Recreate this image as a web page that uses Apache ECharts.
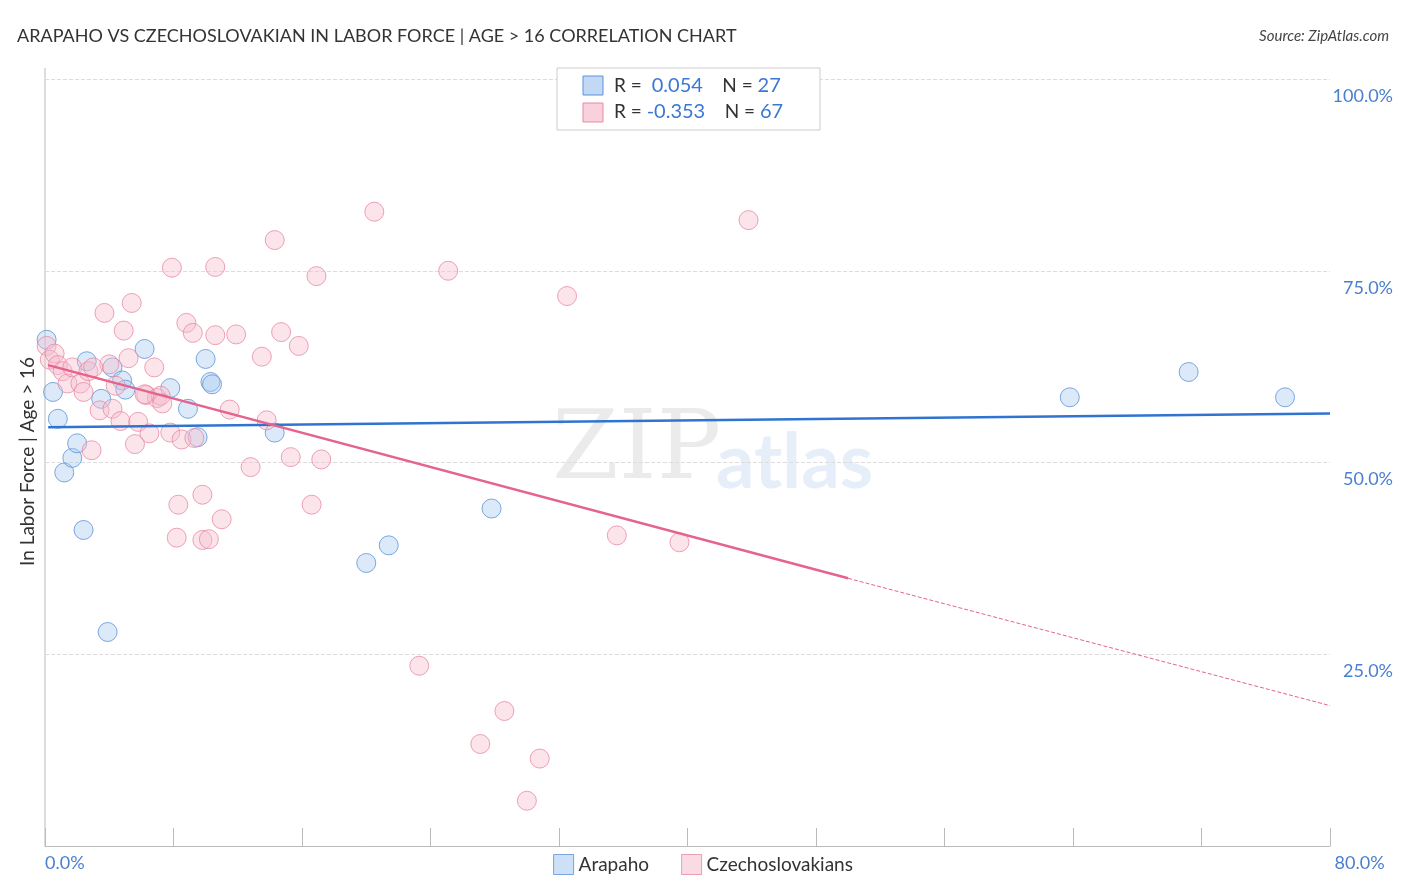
<!DOCTYPE html>
<html><head><meta charset="utf-8">
<script src="https://cdn.jsdelivr.net/npm/echarts@6/dist/echarts.min.js"></script>
<style>html,body{margin:0;padding:0;background:#fff}#main{width:1406px;height:892px}</style>
</head><body><div id="main"></div>
<script>
// 数据：点位 [x%, y%]
var arapaho = [[0.1,66.0],[0.5,59.2],[0.8,55.7],[1.2,48.7],[1.7,50.6],[2.0,52.5],[2.4,41.2],[2.6,63.2],[3.5,58.3],[3.9,27.9],[4.2,62.4],[4.8,60.7],[5.0,59.5],[6.2,64.8],[7.8,59.7],[8.9,57.0],[9.5,53.3],[10.0,63.5],[10.3,60.5],[10.4,60.2],[14.3,53.9],[20.0,36.9],[21.4,39.2],[27.8,44.0],[63.8,58.5],[71.2,61.8],[77.2,58.5]];
var czech = [[0.1,65.2],[0.3,63.4],[0.6,64.2],[0.8,62.7],[1.1,61.9],[1.4,60.3],[1.7,62.4],[2.2,60.3],[2.4,59.2],[2.7,61.9],[2.9,51.6],[3.4,56.8],[3.7,69.5],[4.0,62.8],[4.2,57.0],[4.4,60.0],[4.7,55.4],[4.9,67.2],[5.2,63.6],[5.4,70.8],[5.6,52.4],[5.8,55.3],[6.3,58.8],[6.5,53.8],[6.8,62.4],[6.97,58.4],[7.2,58.7],[7.3,57.7],[7.8,53.9],[7.9,75.4],[8.3,44.5],[8.5,53.0],[8.8,68.2],[9.2,66.9],[9.3,53.2],[9.8,45.8],[9.8,39.9],[10.2,40.0],[10.6,75.5],[10.6,66.6],[11.0,42.6],[11.5,56.9],[11.9,66.7],[12.8,49.4],[13.5,63.8],[13.8,55.5],[14.3,79.0],[14.7,67.0],[15.3,50.7],[15.8,65.2],[16.6,44.5],[16.9,74.3],[17.2,50.4],[20.5,82.7],[23.3,23.5],[25.1,75.0],[27.1,13.3],[28.6,17.6],[30.0,5.9],[30.8,11.4],[32.5,71.7],[35.6,40.5],[39.5,39.6],[43.8,81.6],[8.2,40.2],[6.2,58.9],[3.0,62.4]];
var blueTrend = [[0.2,54.6],[80,56.4]];
var pinkSolid = [[0.2,62.7],[50,34.9]];
var pinkDash = [[50,34.9],[80,18.3]];
var yTicks = [25, 50, 75, 100];

var chart = echarts.init(document.getElementById('main'));
var font = 'Lato, "Open Sans", sans-serif';
var option = {
  animation: false,
  textStyle: {fontFamily: font},
  title: [
    {text: 'ARAPAHO VS CZECHOSLOVAKIAN IN LABOR FORCE | AGE > 16 CORRELATION CHART', left: 12, top: 22,
     textStyle: {fontSize: 18, fontWeight: 'normal', color: '#333', fontFamily: font}},
    {text: 'Source: ZipAtlas.com', right: 12, top: 24,
     textStyle: {fontSize: 15, fontWeight: 'normal', fontStyle: 'italic', color: '#444', fontFamily: font}}
  ],
  grid: {left: 45, right: 76, top: 79, bottom: 46, outerBoundsMode: 'none', containLabel: false},
  legend: {
    bottom: 12, left: 'center', itemWidth: 20, itemHeight: 20, itemGap: 32,
    textStyle: {fontSize: 19, color: '#333'},
    data: [
      {name: 'Arapaho', icon: 'rect', itemStyle: {color: 'rgba(168,200,240,0.7)', borderColor: '#5b93d9', borderWidth: 1}},
      {name: 'Czechoslovakians', icon: 'rect', itemStyle: {color: 'rgba(246,190,205,0.7)', borderColor: '#e889a5', borderWidth: 1}}
    ]
  },
  xAxis: {
    type: 'value', min: 0, max: 80, interval: 8,
    axisLine: {show: true, lineStyle: {color: '#bbb'}},
    axisTick: {show: true, length: 18, inside: true, lineStyle: {color: '#bbb'}},
    splitLine: {show: false},
    axisLabel: {fontSize: 18, color: '#4a7fd0', margin: 8, alignMinLabel: 'left', alignMaxLabel: 'left',
      formatter: function (v) { return v === 0 ? '0.0%' : v === 80 ? ' 80.0%' : ''; }}
  },
  yAxis: {
    type: 'value', min: 0, max: 100, interval: 25, position: 'right',
    axisLine: {show: false}, axisTick: {show: false},
    splitLine: {show: true, lineStyle: {type: 'dashed', color: '#ddd'}},
    axisLabel: {fontSize: 18, color: '#4a7fd0', margin: 63, verticalAlign: 'top', align: 'right',
      padding: [8, 0, 0, 0],
      formatter: function (v) { return yTicks.indexOf(v) >= 0 ? v.toFixed(1) + '%' : ''; }}
  },
  graphic: [
    {type: 'line', shape: {x1: 45, y1: 68, x2: 45, y2: 846}, style: {stroke: '#bbb', lineWidth: 1}},
    {type: 'text', x: 18, y: 566, rotation: Math.PI / 2,
     style: {text: 'In Labor Force | Age > 16', fontSize: 19, fill: '#333', fontFamily: font}},
    {type: 'text', left: 552, top: 405, z: 0,
     style: {text: 'ZIP', fontSize: 96, fontFamily: 'DejaVu Serif, serif', fill: 'rgba(0,0,0,0.08)'}},
    {type: 'text', left: 716, top: 425, z: 0,
     style: {text: 'atlas', fontSize: 76, fontFamily: font, fontWeight: 'bold', fill: 'rgba(90,140,220,0.15)'}},
    {type: 'rect', shape: {x: 557, y: 68, width: 263, height: 62}, style: {fill: '#fff', stroke: '#ccc'}, z: 10},
    {type: 'rect', shape: {x: 583, y: 76, width: 20, height: 19}, style: {fill: 'rgba(168,200,240,0.7)', stroke: '#5b93d9'}, z: 11},
    {type: 'rect', shape: {x: 583, y: 103, width: 20, height: 19}, style: {fill: 'rgba(246,190,205,0.7)', stroke: '#e889a5'}, z: 11},
    {type: 'text', x: 614, y: 76, z: 11, style: {text: '{a|R = }{b| 0.054}{a|    N = }{b|27}', rich: {a: {fontSize: 19, fill: '#333', fontFamily: font}, b: {fontSize: 20, fill: '#3a78d4', fontFamily: font}}}},
    {type: 'text', x: 614, y: 102, z: 11, style: {text: '{a|R = }{b|-0.353}{a|    N = }{b|67}', rich: {a: {fontSize: 19, fill: '#333', fontFamily: font}, b: {fontSize: 20, fill: '#3a78d4', fontFamily: font}}}}
  ],
  series: [
    {name: 'Arapaho', type: 'scatter', data: arapaho, symbolSize: 19, z: 3,
     itemStyle: {color: 'rgba(168,200,240,0.5)', borderColor: '#5b93d9', borderWidth: 1}},
    {name: 'Czechoslovakians', type: 'scatter', data: czech, symbolSize: 19, z: 3,
     itemStyle: {color: 'rgba(246,190,205,0.5)', borderColor: '#e889a5', borderWidth: 1}},
    {type: 'line', data: blueTrend, symbol: 'none', z: 4, lineStyle: {color: '#2f74d0', width: 2.5}},
    {type: 'line', data: pinkSolid, symbol: 'none', z: 4, lineStyle: {color: '#e4648e', width: 2.5}},
    {type: 'line', data: pinkDash, symbol: 'none', z: 4, lineStyle: {color: '#e4648e', width: 1, type: 'dashed'}}
  ]
};
chart.setOption(option);
</script></body></html>
